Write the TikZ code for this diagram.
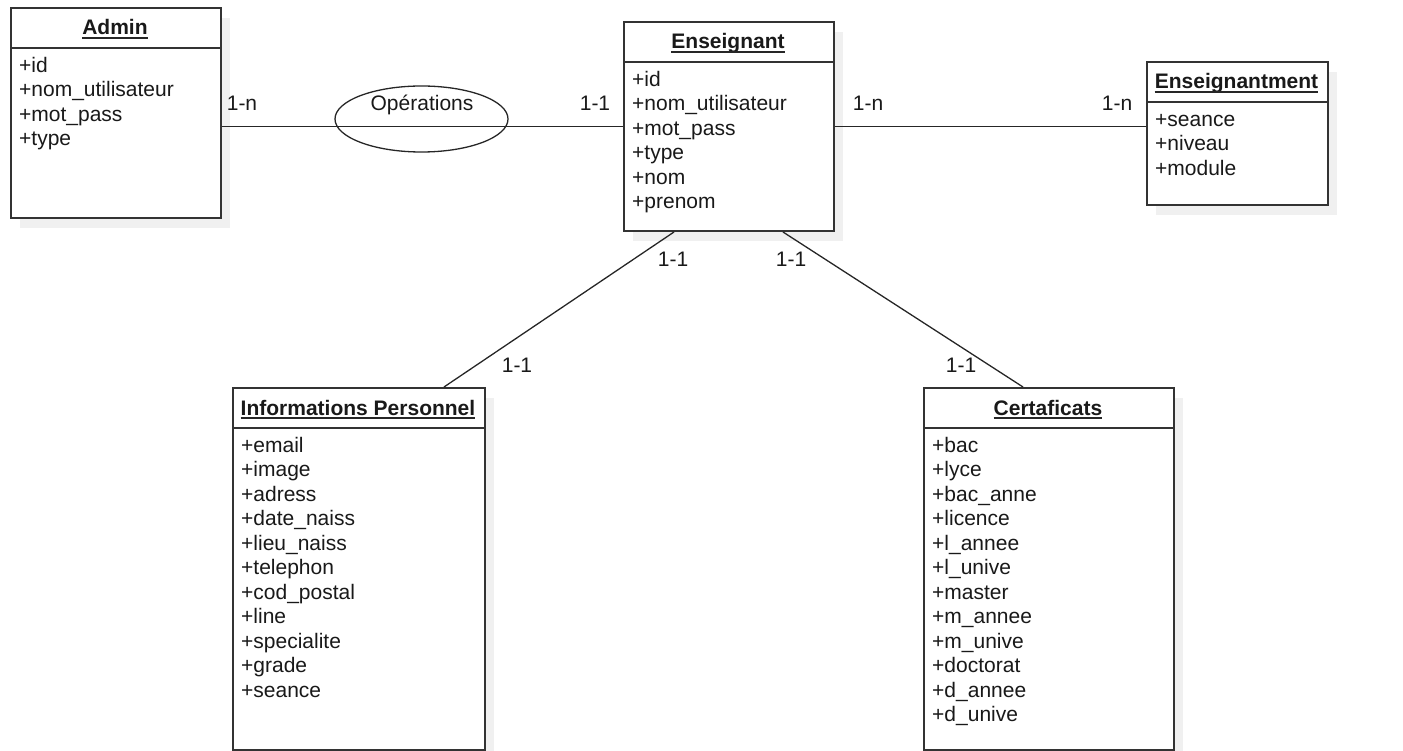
\documentclass[tikz,border=0pt]{standalone}
\usepackage{fontspec}
\setmainfont{Liberation Sans}
\usetikzlibrary{shapes.geometric,shadows}

\begin{document}
\begin{tikzpicture}[x=1pt, y=-1pt,
        txt/.style={font=\fontsize{21}{24}\selectfont, text=black!90, inner sep=0pt},
        title/.style={txt, font=\fontsize{21}{24}\selectfont\bfseries, anchor=base},
        attr/.style={txt, anchor=base west},
        card/.style={txt, anchor=base},
        classbox/.style={draw=black!80, line width=2pt, fill=white, anchor=north west, inner sep=0pt,
            drop shadow={shadow xshift=9pt, shadow yshift=-10pt, fill=black!6, opacity=1}},
        sepline/.style={black!80, line width=1.8pt},
        link/.style={black!85, line width=1.3pt}]

        \useasboundingbox (0,0) rectangle (1403,751);

        % Admin
        \node[classbox, minimum width=210pt, minimum height=210pt] (admin) at (10,7) {};
        \draw[sepline] ([yshift=-41pt]admin.north west) -- ([yshift=-41pt]admin.north east);
        \node[title] (admin-t) at (115,35) {Admin};
        \draw[link] ([yshift=-3pt]admin-t.base west) -- ([yshift=-3pt]admin-t.base east);
        \foreach \a [count=\i from 0] in {id, nom\_utilisateur, mot\_pass, type}
            \node[attr] (admin-a\i) at (19,{72.5+24.45*\i}) {+\a};

        % Enseignant
        \node[classbox, minimum width=210pt, minimum height=209pt] (ens) at (623,21) {};
        \draw[sepline] ([yshift=-41pt]ens.north west) -- ([yshift=-41pt]ens.north east);
        \node[title] (ens-t) at (728,49) {Enseignant};
        \draw[link] ([yshift=-3pt]ens-t.base west) -- ([yshift=-3pt]ens-t.base east);
        \foreach \a [count=\i from 0] in {id, nom\_utilisateur, mot\_pass, type, nom, prenom}
            \node[attr] (ens-a\i) at (632,{86.5+24.45*\i}) {+\a};

        % Enseignantment
        \node[classbox, minimum width=181pt, minimum height=143pt] (ensm) at (1146,61) {};
        \draw[sepline] ([yshift=-41pt]ensm.north west) -- ([yshift=-41pt]ensm.north east);
        \node[title] (ensm-t) at (1236.5,89) {Enseignantment};
        \draw[link] ([yshift=-3pt]ensm-t.base west) -- ([yshift=-3pt]ensm-t.base east);
        \foreach \a [count=\i from 0] in {seance, niveau, module}
            \node[attr] (ensm-a\i) at (1155,{126.5+24.45*\i}) {+\a};

        % Informations Personnel
        \node[classbox, minimum width=252pt, minimum height=362pt] (info) at (232,387) {};
        \draw[sepline] ([yshift=-41pt]info.north west) -- ([yshift=-41pt]info.north east);
        \node[title] (info-t) at (358,415) {Informations Personnel};
        \draw[link] ([yshift=-3pt]info-t.base west) -- ([yshift=-3pt]info-t.base east);
        \foreach \a [count=\i from 0] in {email, image, adress, date\_naiss, lieu\_naiss, telephon,
                cod\_postal, line, specialite, grade, seance}
            \node[attr] (info-a\i) at (241,{452.5+24.45*\i}) {+\a};

        % Certaficats
        \node[classbox, minimum width=250pt, minimum height=362pt] (cert) at (923,387) {};
        \draw[sepline] ([yshift=-41pt]cert.north west) -- ([yshift=-41pt]cert.north east);
        \node[title] (cert-t) at (1048,415) {Certaficats};
        \draw[link] ([yshift=-3pt]cert-t.base west) -- ([yshift=-3pt]cert-t.base east);
        \foreach \a [count=\i from 0] in {bac, lyce, bac\_anne, licence, l\_annee, l\_unive, master,
                m\_annee, m\_unive, doctorat, d\_annee, d\_unive}
            \node[attr] (cert-a\i) at (932,{452.5+24.45*\i}) {+\a};

        % Operations association
        \node[draw=black!85, line width=1.3pt, ellipse, minimum width=173pt, minimum height=66pt,
            inner sep=0pt] (ops) at (421.5,119) {};
        \node[card] (ops-t) at (422,110.5) {Opérations};

        % links
        \draw[link] (ens.west) -- (ens.west -| admin.east);
        \draw[link] (ens.east) -- (ens.east -| ensm.west);
        \draw[link] ([xshift=-55pt]ens.south) -- ([xshift=85pt]info.north);
        \draw[link] ([xshift=54pt]ens.south) -- ([xshift=-26pt]cert.north);

        % cardinalities
        \foreach \x/\y/\c in {242/110.5/1-n, 595/110.5/1-1, 868/110.5/1-n, 1117/110.5/1-n,
                673/267/1-1, 791/267/1-1, 517/372/1-1, 961/372/1-1}
            \node[card] (card\x) at (\x,\y) {\c};
\end{tikzpicture}
\end{document}
